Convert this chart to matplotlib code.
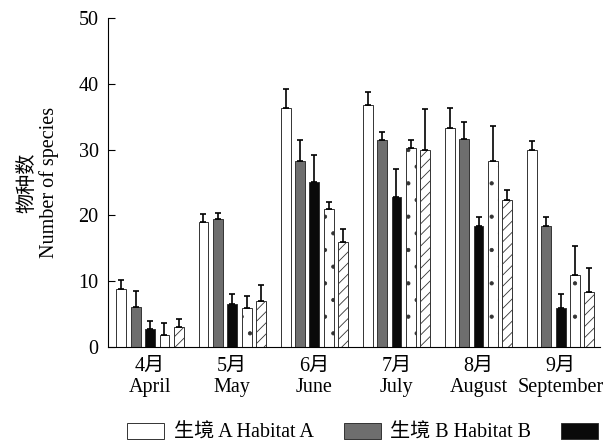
import numpy as np
import matplotlib
matplotlib.use('Agg')
import matplotlib.pyplot as plt

plt.rcParams['font.family'] = ['Liberation Serif', 'Noto Sans CJK SC']
plt.rcParams['hatch.linewidth'] = 0.6

months = ['4月\nApril', '5月\nMay', '6月\nJune', '7月\nJuly', '8月\nAugust', '9月\nSeptember']
labels = ['生境 A Habitat A', '生境 B Habitat B', '', '_d', '_e']

# mean number of species per habitat, Apr..Sep
hab_a = [8.8, 19.0, 36.3, 36.7, 33.3, 30.0]
hab_b = [6.1, 19.5, 28.3, 31.5, 31.6, 18.4]
hab_c = [2.8, 6.5, 25.0, 22.8, 18.4, 5.9]
hab_d = [1.8, 6.0, 21.0, 30.3, 28.2, 11.0]
hab_e = [3.0, 7.0, 16.0, 30.0, 22.4, 8.3]
# upper error (SE)
err_a = [1.4, 1.2, 2.9, 2.0, 3.0, 1.3]
err_b = [2.4, 0.9, 3.2, 1.1, 2.6, 1.4]
err_c = [1.2, 1.6, 4.2, 4.2, 1.4, 2.1]
err_d = [1.8, 1.7, 1.0, 1.2, 5.4, 4.3]
err_e = [1.3, 2.5, 2.0, 6.2, 1.4, 3.7]

means = [hab_a, hab_b, hab_c, hab_d, hab_e]
errs = [err_a, err_b, err_c, err_d, err_e]
colors = ['white', '#6e6e6e', '#0a0a0a', 'white', 'white']
hatches = [None, None, None, '.', '///']

fig = plt.figure(figsize=(6.08, 4.45), dpi=100)
ax = fig.add_axes([0.178, 0.22, 0.809, 0.74])

x = np.arange(len(months))
width = 0.12
step = 0.175
handles = []
for i in range(5):
    pos = x + (i - 2) * step
    b = ax.bar(pos, means[i], width, color=colors[i], edgecolor='#333333',
               linewidth=0.7, hatch=hatches[i], label=labels[i],
               yerr=[np.zeros(len(months)), errs[i]], capsize=2.5,
               error_kw=dict(ecolor='black', elinewidth=1.2, capthick=1.2))
    handles.append(b)

ax.set_xlim(-0.51, 5.48)
ax.set_ylim(0, 50)
ax.set_yticks([0, 10, 20, 30, 40, 50])
ax.set_xticks(x)
ax.set_xticklabels(months, fontsize=14.5, linespacing=1.15)
ax.tick_params(axis='x', length=0, pad=7)
ax.tick_params(axis='y', direction='in', length=5, labelsize=14.5, pad=7)
ax.spines['top'].set_visible(False)
ax.spines['right'].set_visible(False)
ax.set_ylabel('物种数\nNumber of species', fontsize=14.5, linespacing=1.1, labelpad=14)

fig.legend(handles[:3], labels[:3], loc='center left', bbox_to_anchor=(0.196, 0.027),
           ncol=3, frameon=False, fontsize=14.5, handlelength=1.85, handleheight=0.8,
           columnspacing=1.5, handletextpad=0.45, borderaxespad=0)

fig.savefig('out.png', dpi=100)
